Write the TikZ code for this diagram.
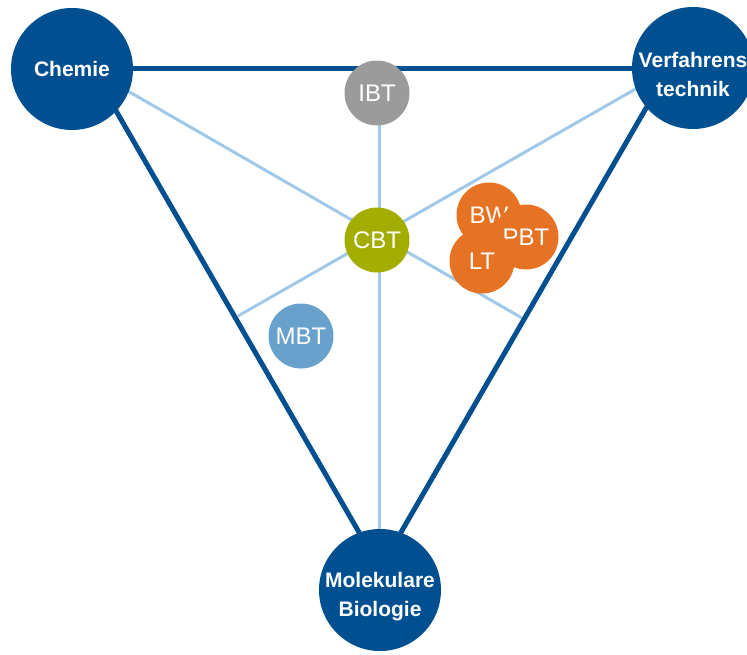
\documentclass[tikz,border=0pt]{standalone}
\usepackage{fontspec}
\setmainfont{Liberation Sans}
\definecolor{dblue}{RGB}{0,80,145}
\definecolor{lblue}{RGB}{160,200,232}
\definecolor{ibtgray}{RGB}{155,155,155}
\definecolor{cbtgreen}{RGB}{163,173,0}
\definecolor{orng}{RGB}{230,115,35}
\definecolor{mbtblue}{RGB}{104,162,204}
\tikzset{
  bigc/.style={circle, fill=dblue, minimum size=122pt, inner sep=0pt},
  bigtext/.style={inner sep=0pt, text=white, align=center,
    font=\fontsize{21}{29}\selectfont\bfseries},
  smallc/.style={circle, fill=#1, minimum size=65pt, inner sep=0pt, text=white,
    font=\fontsize{24}{28}\selectfont},
  darkline/.style={draw=dblue, line width=5pt},
  lightline/.style={draw=lblue, line width=3pt}
}
\begin{document}
\begin{tikzpicture}[x=1pt,y=-1pt]
\useasboundingbox (0,0) rectangle (747,654);
\clip (0,0) rectangle (747,654);
% line endpoints
\coordinate (cl1) at (100,83);
\coordinate (cl2) at (360,534);
\coordinate (vl1) at (660,84);
\coordinate (vl2) at (400,534);
\coordinate (h1) at (72,68);
\coordinate (h2) at (693,68);
\coordinate (lc1) at (100,75);
\coordinate (lc2) at (522,318);
\coordinate (lv1) at (660,75);
\coordinate (lv2) at (238,316);
\coordinate (vt1) at (379,95);
\coordinate (vt2) at (379,560);
% connectors
\draw[lightline] (lc1) -- (lc2);
\draw[lightline] (lv1) -- (lv2);
\draw[lightline] (vt1) -- (vt2);
\draw[darkline] (h1) -- (h2);
\draw[darkline] (cl1) -- (cl2);
\draw[darkline] (vl1) -- (vl2);
% main circles
\node[bigc] (chem) at (72,69) {};
\node[bigc] (verf) at (693,68) {};
\node[bigc] (molb) at (380,590) {};
\node[bigtext] (chemt) at (72,69) {Chemie};
\node[bigtext] (verft) at (693,74) {Verfahrens\\technik};
\node[bigtext] (molbt) at (380,597) {Molekulare\\Biologie};
% small circles
\node[smallc=ibtgray] (ibt) at (377,93) {IBT};
\node[smallc=cbtgreen] (cbt) at (377,240) {CBT};
\node[smallc=mbtblue] (mbt) at (301,336) {MBT};
\node[smallc=orng] (bw) at (489,215) {BW};
\node[smallc=orng] (pbt) at (526,237) {PBT};
\node[smallc=orng] (lt) at (482,261) {LT};
\end{tikzpicture}
\end{document}
